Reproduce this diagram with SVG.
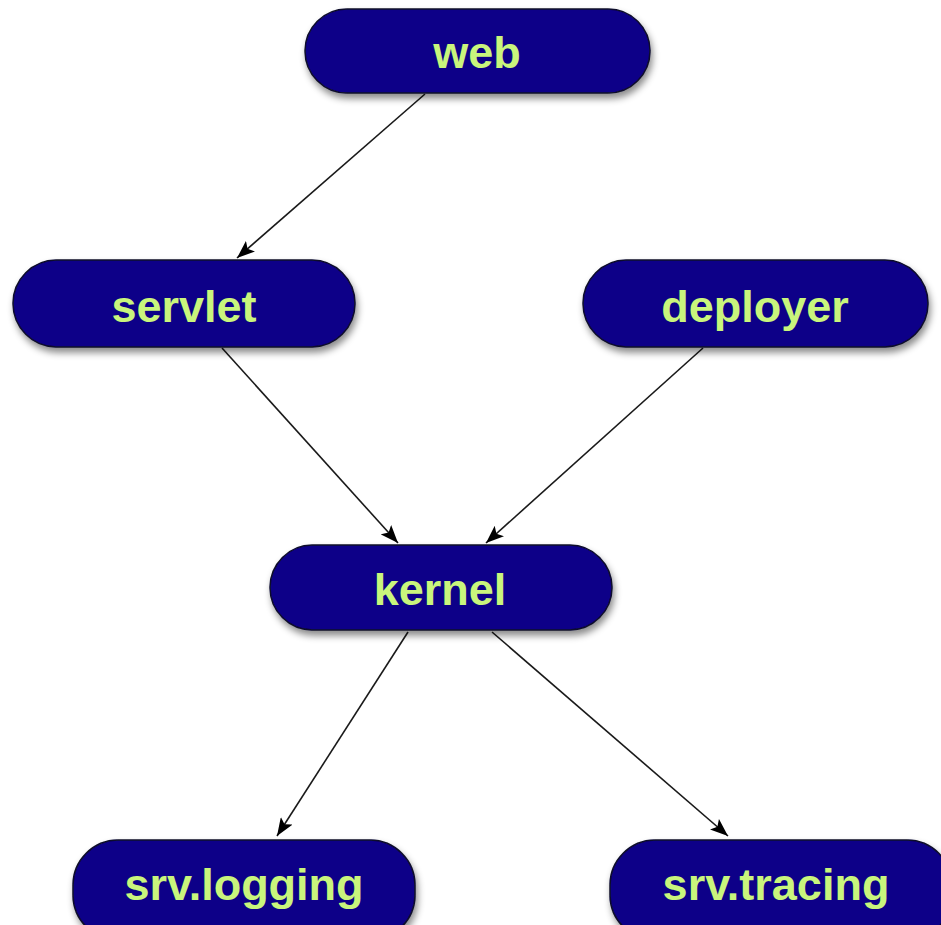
<svg xmlns="http://www.w3.org/2000/svg" width="941" height="925" viewBox="0 0 941 925">
<defs>
<filter id="sh" x="-10%" y="-20%" width="120%" height="160%">
<feDropShadow dx="2" dy="5" stdDeviation="3.5" flood-color="#000" flood-opacity="0.45"/>
</filter>
<marker id="ah" viewBox="0 0 18 14" refX="18" refY="7" markerWidth="18" markerHeight="14" markerUnits="userSpaceOnUse" orient="auto">
<path d="M0,0 L18,7 L0,14 L4,7 Z" fill="#000"/>
</marker>
</defs>
<style>
.node rect{fill:#0a0488;stroke:#0a0a2a;stroke-width:1.5;filter:url(#sh)}
.node text{font-family:"Liberation Sans",Arial,Helvetica,sans-serif;font-weight:bold;font-size:45px;fill:#c9f57c;text-anchor:middle}
.edge line{stroke:#1a1a1a;stroke-width:1.6;marker-end:url(#ah)}
</style>
<rect width="941" height="925" fill="#fff"/>
<g id="connectors" class="edge">
<line x1="425" y1="94" x2="237" y2="258"/>
<line x1="222" y1="348" x2="398" y2="543"/>
<line x1="703" y1="348" x2="486" y2="543"/>
<line x1="408" y1="632" x2="277" y2="836"/>
<line x1="492" y1="632" x2="728" y2="836"/>
</g>
<g id="web" class="node">
<rect x="305" y="9" width="345" height="84" rx="42"/>
<text x="477" y="68">web</text>
</g>
<g id="servlet" class="node">
<rect x="13" y="260" width="342" height="87" rx="43.5"/>
<text x="184" y="322">servlet</text>
</g>
<g id="deployer" class="node">
<rect x="583" y="260" width="345" height="87" rx="43.5"/>
<text x="755" y="322">deployer</text>
</g>
<g id="kernel" class="node">
<rect x="270" y="545" width="342" height="85" rx="42.5"/>
<text x="440" y="605">kernel</text>
</g>
<g id="srv.logging" class="node">
<rect x="73" y="840" width="342" height="100" rx="45"/>
<text x="244" y="900">srv.logging</text>
</g>
<g id="srv.tracing" class="node">
<rect x="610" y="840" width="342" height="100" rx="45"/>
<text x="776" y="900">srv.tracing</text>
</g>
</svg>
